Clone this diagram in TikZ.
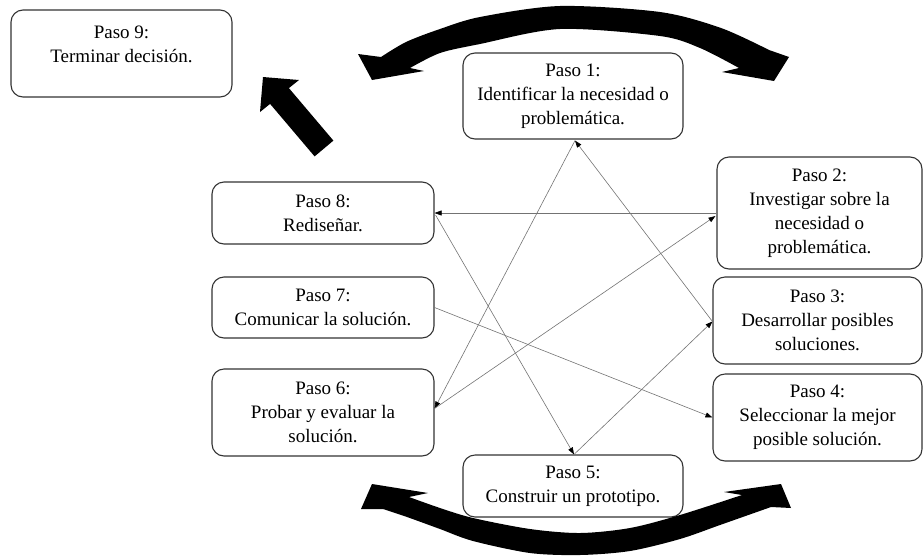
\documentclass[tikz,border=0pt]{standalone}
\usepackage{fontspec}
\setmainfont{Liberation Serif}
\newfontfamily\tnrfont{Liberation Serif}
\usetikzlibrary{arrows.meta,calc}
\begin{document}
\begin{tikzpicture}[x=1pt,y=-1pt,
  stepbox/.style={draw=black!80, line width=1.1pt, rounded corners=12pt, fill=white,
    align=center, inner sep=0pt, text=black,
    font=\tnrfont\fontsize{19}{24}\selectfont},
  conn/.style={draw=black!55, line width=0.6pt,
    -{Triangle[length=7pt,width=5pt,fill=black,color=black]}},
  bigarrow/.style={fill=black}]
\useasboundingbox (0,0) rectangle (923,555);

% boxes
\node[stepbox, minimum width=221pt, minimum height=87pt] (p9) at (121.5,53.5) {\parbox[c][56pt][t]{210pt}{\centering Paso 9:\\Terminar decisión.}};
\node[stepbox, minimum width=220pt, minimum height=86pt] (p1) at (573,96) {Paso 1:\\Identificar la necesidad o\\problemática.};
\node[stepbox, minimum width=205pt, minimum height=112pt] (p2) at (819.5,213) {Paso 2:\\Investigar sobre la\\necesidad o\\problemática.};
\node[stepbox, minimum width=209pt, minimum height=87pt] (p3) at (817.5,320.5) {Paso 3:\\Desarrollar posibles\\soluciones.};
\node[stepbox, minimum width=209pt, minimum height=87pt] (p4) at (817.5,417.5) {Paso 4:\\Seleccionar la mejor\\posible solución.};
\node[stepbox, minimum width=220pt, minimum height=62pt] (p5) at (573,486) {Paso 5:\\Construir un prototipo.};
\node[stepbox, minimum width=222pt, minimum height=87pt] (p6) at (323,412.5) {Paso 6:\\Probar y evaluar la\\solución.};
\node[stepbox, minimum width=222pt, minimum height=61pt] (p7) at (323,307.5) {Paso 7:\\Comunicar la solución.};
\node[stepbox, minimum width=222pt, minimum height=62pt] (p8) at (323,213) {Paso 8:\\Rediseñar.};

% anchor points
\coordinate (p1s) at ($(p1.south)+(2,1)$);
\coordinate (p6e) at ($(p6.east)+(0,-4)$);
\coordinate (p5n) at ($(p5.north)+(1,0)$);
\coordinate (p3w) at ($(p3.west)+(0,1)$);
\coordinate (p8e) at ($(p8.east)+(1,2)$);
\coordinate (p2w) at ($(p2.west)+(-1,3)$);

% connectors
\draw[conn] (p2.west) -- (p8.east);
\draw[conn] (p8e) -- (p5n);
\draw[conn] (p5n) -- (p3w);
\draw[conn] (p3w) -- (p1s);
\draw[conn] (p1s) -- (p6e);
\draw[conn] (p6e) -- (p2w);
\draw[conn] (p7.east) -- (p4.west);

% straight big arrow towards Paso 9
\fill[bigarrow] (263,77) -- (299,80) -- (288.9,88.1) -- (333.4,140.6) -- (314.6,156.4)
  -- (270.1,103.9) -- (260,112) -- cycle;

% top curved double arrow
\fill[bigarrow] (358,54) -- plot[smooth] coordinates {(381,57) (406,42) (440,29) (480,17) (560,6) (660,12) (721,28) (769,50)}
  -- (789,57) -- (774,81) -- (722,72)
  -- plot[smooth] coordinates {(739,68) (700,48) (660,36) (560,29) (480,44) (440,53) (410,68)}
  -- (424,71) -- (372,80) -- cycle;

% bottom curved double arrow
\fill[bigarrow] (428,493) -- plot[smooth] coordinates {(409,497) (440,508) (473,518) (530,529) (580,533) (630,528) (680,515) (742,495)}
  -- (724,492) -- (781,484) -- (791,508)
  -- plot[smooth] coordinates {(771,507) (720,525) (680,539) (630,551) (580,555) (530,553) (473,541) (440,529) (407,517) (383,509)}
  -- (361,509) -- (372,484) -- cycle;
\end{tikzpicture}
\end{document}
